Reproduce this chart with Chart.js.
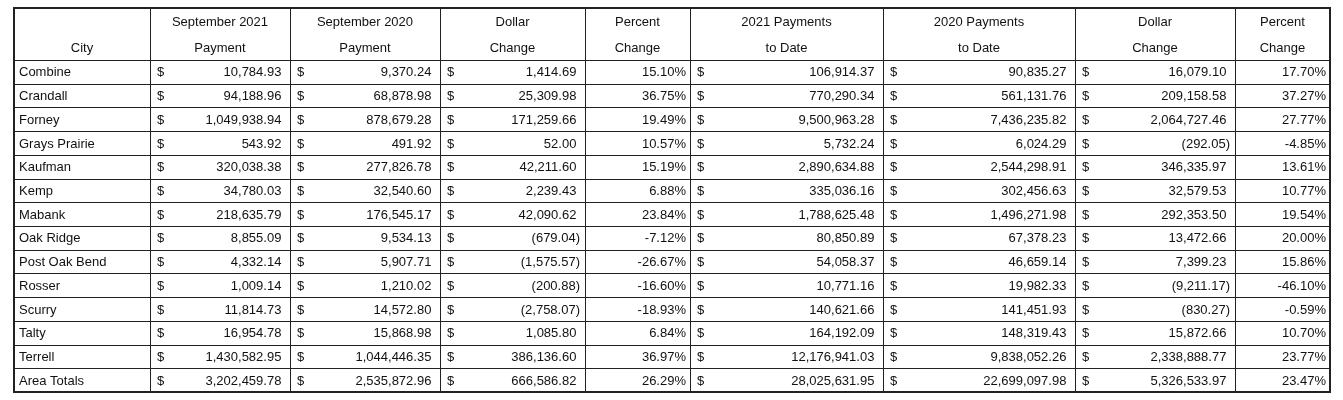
<!DOCTYPE html>
<html><head><meta charset="utf-8">
<script src="https://cdn.jsdelivr.net/npm/chart.js@4"></script>
<style>html,body{margin:0;padding:0;background:#fff}#w{width:1343px;height:400px}</style>
</head><body><div id="w"><canvas id="c"></canvas></div>
<script>
const cities=["Combine","Crandall","Forney","Grays Prairie","Kaufman","Kemp","Mabank","Oak Ridge","Post Oak Bend","Rosser","Scurry","Talty","Terrell","Area Totals"];
const sep2021=[10784.93,94188.96,1049938.94,543.92,320038.38,34780.03,218635.79,8855.09,4332.14,1009.14,11814.73,16954.78,1430582.95,3202459.78];
const sep2020=[9370.24,68878.98,878679.28,491.92,277826.78,32540.60,176545.17,9534.13,5907.71,1210.02,14572.80,15868.98,1044446.35,2535872.96];
const sepDollar=[1414.69,25309.98,171259.66,52.00,42211.60,2239.43,42090.62,-679.04,-1575.57,-200.88,-2758.07,1085.80,386136.60,666586.82];
const sepPct=[15.10,36.75,19.49,10.57,15.19,6.88,23.84,-7.12,-26.67,-16.60,-18.93,6.84,36.97,26.29];
const ytd2021=[106914.37,770290.34,9500963.28,5732.24,2890634.88,335036.16,1788625.48,80850.89,54058.37,10771.16,140621.66,164192.09,12176941.03,28025631.95];
const ytd2020=[90835.27,561131.76,7436235.82,6024.29,2544298.91,302456.63,1496271.98,67378.23,46659.14,19982.33,141451.93,148319.43,9838052.26,22699097.98];
const ytdDollar=[16079.10,209158.58,2064727.46,-292.05,346335.97,32579.53,292353.50,13472.66,7399.23,-9211.17,-830.27,15872.66,2338888.77,5326533.97];
const ytdPct=[17.70,37.27,27.77,-4.85,13.61,10.77,19.54,20.00,15.86,-46.10,-0.59,10.70,23.77,23.47];
const headers=[["","City"],["September 2021","Payment"],["September 2020","Payment"],["Dollar","Change"],["Percent","Change"],["2021 Payments","to Date"],["2020 Payments","to Date"],["Dollar","Change"],["Percent","Change"]];

const colEdges=[14,150,290,440,585,690,883,1075,1235,1330];
const kinds=["text","money","money","money","pct","money","money","money","pct"];
const cols=[cities,sep2021,sep2020,sepDollar,sepPct,ytd2021,ytd2020,ytdDollar,ytdPct];
const top0=8, headBottom=60, bottom=392;

function fmtMoney(v){const s=Math.abs(v).toLocaleString('en-US',{minimumFractionDigits:2,maximumFractionDigits:2});return v<0?'('+s+')':s+' ';}
function fmtPct(v){return v.toFixed(2)+'%';}

const tablePlugin={id:'table',afterDraw(chart){
  const ctx=chart.ctx,xs=chart.scales.x,ys=chart.scales.y;
  const X=v=>xs.getPixelForValue(v),Y=v=>ys.getPixelForValue(v);
  const n=cities.length,rh=(bottom-headBottom)/n;
  ctx.save();
  ctx.strokeStyle='#222';ctx.lineWidth=1;
  ctx.beginPath();
  for(let i=0;i<=n;i++){const y=Math.round(Y(headBottom+i*rh))+0.5;ctx.moveTo(X(colEdges[0]),y);ctx.lineTo(X(colEdges[colEdges.length-1]),y);}
  colEdges.forEach(e=>{const x=Math.round(X(e))+0.5;ctx.moveTo(x,Y(top0));ctx.lineTo(x,Y(bottom));});
  ctx.stroke();
  ctx.lineWidth=2;ctx.strokeRect(X(colEdges[0]),Y(top0),X(colEdges[9])-X(colEdges[0]),Y(bottom)-Y(top0));
  ctx.fillStyle='#111';ctx.font='13px "Liberation Sans", Arial, sans-serif';ctx.textBaseline='middle';
  headers.forEach((h,c)=>{const cx=(X(colEdges[c])+X(colEdges[c+1]))/2;ctx.textAlign='center';
    ctx.fillText(h[0],cx,Y(top0+14));ctx.fillText(h[1],cx,Y(top0+40));});
  for(let r=0;r<n;r++){const y=Y(headBottom+(r+0.5)*rh)+1;
    cols.forEach((arr,c)=>{const l=X(colEdges[c]),rr=X(colEdges[c+1]);const v=arr[r];
      if(kinds[c]==='text'){ctx.textAlign='left';ctx.fillText(v,l+5,y);}
      else if(kinds[c]==='money'){ctx.textAlign='left';ctx.fillText('$',l+7,y);ctx.textAlign='right';ctx.fillText(fmtMoney(v),rr-5,y);}
      else{ctx.textAlign='right';ctx.fillText(fmtPct(v),rr-4,y);}
    });}
  ctx.restore();
}};

new Chart(document.getElementById('c'),{type:'scatter',
  data:{datasets:[{data:[],pointRadius:0}]},
  options:{responsive:true,maintainAspectRatio:false,animation:false,
    layout:{padding:0},
    plugins:{legend:{display:false},tooltip:{enabled:false}},
    scales:{x:{type:'linear',min:0,max:1343,display:false},y:{type:'linear',min:0,max:400,reverse:true,display:false}}},
  plugins:[tablePlugin]});
</script></body></html>
